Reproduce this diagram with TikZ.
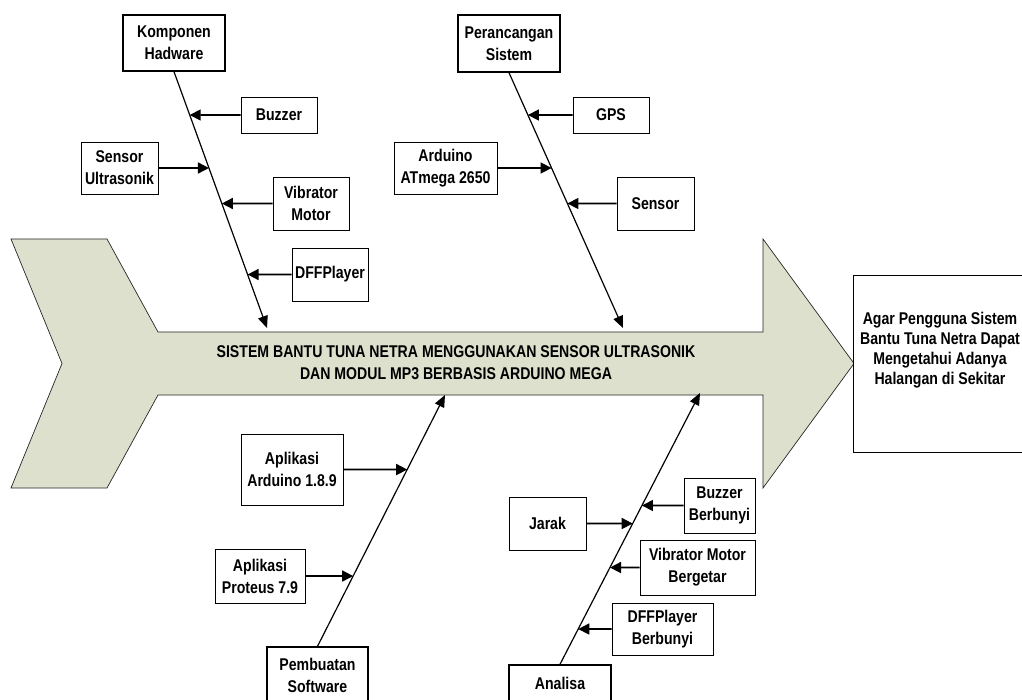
\documentclass[tikz,border=0pt]{standalone}
\usepackage{fontspec}
\setmainfont{Liberation Sans}[FakeStretch=0.83]
\usepackage{xcolor}
\usepackage{tikz}
\usetikzlibrary{arrows.meta,calc}
\definecolor{fishgreen}{RGB}{221,224,204}

\begin{document}
\begin{tikzpicture}[x=1pt,y=-1pt,
  lbl/.style={font=\fontsize{17}{22}\selectfont\bfseries,align=center,inner sep=0pt},
  box/.style 2 args={minimum width=#1,minimum height=#2},
  head/.style={lbl,draw,line width=1.4pt,fill=white},
  cause/.style={lbl,draw,line width=0.8pt,fill=white},
  bone/.style={line width=1.2pt,-{Triangle[length=12pt,width=10pt]}},
  rib/.style={line width=1.6pt,-{Triangle[length=11pt,width=11pt]}}]
 \useasboundingbox (0,0) rectangle (1022,700);
 \draw[fill=fishgreen,draw=black!85,line width=0.7pt] (11,239) -- (107,239) -- (158,332) -- (763,332)
   -- (763,239) -- (854,363.5) -- (763,488) -- (763,395) -- (158,395) -- (107,488) -- (11,488) -- (62,363.5) -- cycle;
 \node[lbl] (title) at (456,362.5) {SISTEM BANTU TUNA NETRA MENGGUNAKAN SENSOR ULTRASONIK\\DAN MODUL MP3 BERBASIS ARDUINO MEGA};
 \node[cause,box={175}{177},anchor=north west] (goal) at (853,275) {};
 \node[lbl,font=\fontsize{17}{20}\selectfont\bfseries] (goaltext) at (940,350) {Agar Pengguna Sistem\\Bantu Tuna Netra Dapat\\Mengetahui Adanya\\Halangan di Sekitar};
 \node[head,box={102}{56}] (hw) at (174,43) {Komponen\\Hadware};
 \node[head,box={102}{57}] (ps) at (509,43.5) {Perancangan\\Sistem};
 \node[head,box={101}{56}] (sw) at (317.5,675) {Pembuatan\\Software};
 \node[head,box={102}{36}] (an) at (560,683) {Analisa};
 \coordinate (hwtip) at (267,328);
 \coordinate (pstip) at (623,328);
 \coordinate (swtip) at (445,395);
 \coordinate (antip) at (700,393);
 \draw[bone] (hw.south) -- (hwtip);
 \draw[bone] (ps.south) -- (pstip);
 \draw[bone] (sw.north) -- (swtip);
 \draw[bone] (an.north) -- (antip);
 \node[cause,box={76}{36}] (buzzer) at (279,115) {Buzzer};
 \node[cause,box={77}{52}] (ultra) at (119.5,168) {Sensor\\Ultrasonik};
 \node[cause,box={76}{53}] (vibra) at (311,203.5) {Vibrator\\Motor};
 \node[cause,box={76}{53}] (dff) at (330,274.5) {DFFPlayer};
 \node[cause,box={76}{36}] (gps) at (611,115) {GPS};
 \node[cause,box={103}{52}] (mega) at (445.5,168) {Arduino\\ATmega 2650};
 \node[cause,box={77}{53}] (sensor) at (655.5,203.5) {Sensor};
 \node[cause,box={102}{71}] (ide) at (292,469.5) {Aplikasi\\Arduino 1.8.9};
 \node[cause,box={90}{54}] (proteus) at (260,576) {Aplikasi\\Proteus 7.9};
 \node[cause,box={77}{53}] (jarak) at (547.5,523.5) {Jarak};
 \node[cause,box={71}{55}] (bzon) at (719.5,505.5) {Buzzer\\Berbunyi};
 \node[cause,box={115}{55}] (vbon) at (697.5,567.5) {Vibrator Motor\\Bergetar};
 \node[cause,box={101}{52}] (dfon) at (662.5,629) {DFFPlayer\\Berbunyi};
 \foreach \c/\b/\t in {buzzer/hw.south/hwtip,ultra/hw.south/hwtip,vibra/hw.south/hwtip,dff/hw.south/hwtip,
   gps/ps.south/pstip,mega/ps.south/pstip,sensor/ps.south/pstip,
   ide/sw.north/swtip,proteus/sw.north/swtip,
   jarak/an.north/antip,bzon/an.north/antip,vbon/an.north/antip,dfon/an.north/antip}
   \draw[rib] (\c) -- (intersection cs:first line={(\b)--(\t)},second line={(\c.west)--(\c.east)});
\end{tikzpicture}
\end{document}
